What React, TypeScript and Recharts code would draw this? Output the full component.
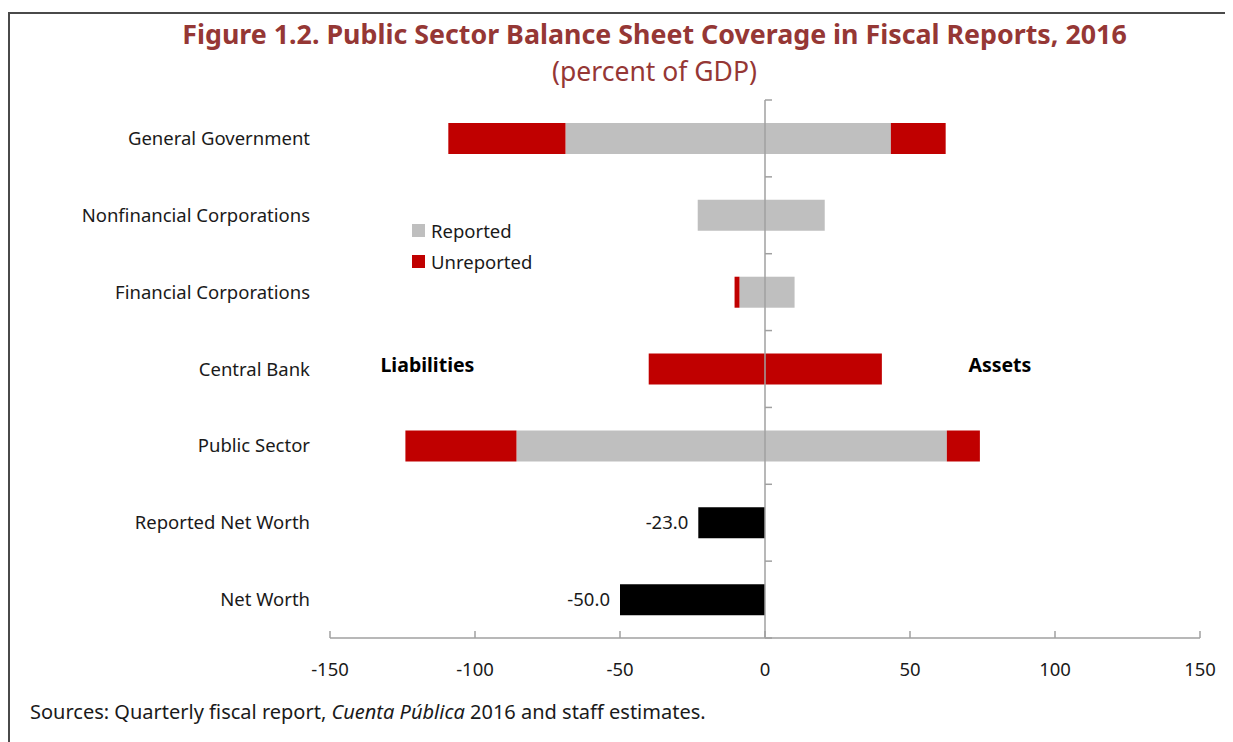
import React from 'react';
import { BarChart, Bar, XAxis, YAxis, ReferenceLine, ReferenceDot, Legend, LabelList } from 'recharts';

const categories = [
  'General Government',
  'Nonfinancial Corporations',
  'Financial Corporations',
  'Central Bank',
  'Public Sector',
  'Reported Net Worth',
  'Net Worth',
];
const reportedLiabilities = [-68.8, -23.2, -8.8, 0, -85.7, 0, 0];
const unreportedLiabilities = [-40.4, 0, -1.7, -40.1, -38.3, 0, 0];
const reportedAssets = [43.4, 20.6, 10.2, 0, 62.7, 0, 0];
const unreportedAssets = [18.9, 0, 0, 40.3, 11.4, 0, 0];
const netWorth = [0, 0, 0, 0, 0, -23.0, -50.0];
const xTicks = [-150, -100, -50, 0, 50, 100, 150];
const legendItems = [
  { label: 'Reported', color: '#bfbfbf' },
  { label: 'Unreported', color: '#c00000' },
];

const data = categories.map((name, i) => ({
  name,
  repL: reportedLiabilities[i],
  unrepL: unreportedLiabilities[i],
  repA: reportedAssets[i],
  unrepA: unreportedAssets[i],
  nw: netWorth[i],
}));

const FONT = "'Noto Sans', 'Open Sans', sans-serif";
const TEXT = '#1a1a1a';
const AXIS = '#a0a0a0';

const ZeroAxis = (props: any) => {
  const { x1, y1, y2 } = props;
  const top = Math.min(y1, y2);
  const bottom = Math.max(y1, y2);
  const n = categories.length;
  const ticks = [];
  for (let i = 0; i <= n; i++) {
    const y = top + (i * (bottom - top)) / n;
    ticks.push(<line key={i} x1={x1} x2={x1 + 7} y1={y} y2={y} stroke={AXIS} strokeWidth={1.5} />);
  }
  return (
    <g>
      <line x1={x1} x2={x1} y1={top} y2={bottom} stroke={AXIS} strokeWidth={1.5} />
      {ticks}
    </g>
  );
};

const LegendContent = () => (
  <div style={{ fontFamily: FONT, fontSize: 18.5, color: TEXT }}>
    {legendItems.map((it) => (
      <div key={it.label} style={{ display: 'flex', alignItems: 'center', height: 31 }}>
        <span style={{ display: 'inline-block', width: 13, height: 13, background: it.color, marginRight: 6 }} />
        <span>{it.label}</span>
      </div>
    ))}
  </div>
);

export default function App() {
  return (
    <div style={{ position: 'relative', width: 1233, height: 742 }}>
      <div
        style={{
          position: 'absolute',
          left: 0,
          top: 4,
          width: 1240,
          height: 760,
          border: '2px solid #4a4a4a',
          boxSizing: 'border-box',
        }}
      />
      <div style={{ position: 'absolute', left: -8, top: -8, width: 1233, height: 742 }}>
        <div
          style={{
            position: 'absolute',
            left: 0,
            width: 1233,
            top: 15,
            textAlign: 'center',
            fontFamily: FONT,
            fontWeight: 'bold',
            fontSize: 26.8,
            color: '#953735',
            paddingLeft: 76,
            boxSizing: 'border-box',
            whiteSpace: 'nowrap',
          }}
        >
          Figure 1.2. Public Sector Balance Sheet Coverage in Fiscal Reports, 2016
        </div>
        <div
          style={{
            position: 'absolute',
            left: 0,
            width: 1233,
            top: 53,
            textAlign: 'center',
            fontFamily: FONT,
            fontSize: 26.5,
            color: '#953735',
            paddingLeft: 76,
            boxSizing: 'border-box',
          }}
        >
          (percent of GDP)
        </div>
        <div style={{ position: 'absolute', left: 0, top: 0 }}>
          <BarChart
            width={1233}
            height={742}
            data={data}
            layout="vertical"
            stackOffset="sign"
            barSize={31}
            margin={{ top: 100, right: 33, bottom: 74, left: 0 }}
            style={{ fontFamily: FONT }}
          >
            <XAxis
              type="number"
              domain={[-150, 150]}
              ticks={xTicks}
              interval={0}
              height={30}
              axisLine={{ stroke: AXIS, strokeWidth: 1.5 }}
              tickLine={{ stroke: AXIS, strokeWidth: 1.5 }}
              tickSize={-7}
              tickMargin={32}
              tick={{ fill: TEXT, fontSize: 18.5 }}
            />
            <YAxis
              type="category"
              dataKey="name"
              width={330}
              axisLine={false}
              tickLine={false}
              tickSize={0}
              tickMargin={20}
              interval={0}
              tick={{ fill: TEXT, fontSize: 18.5 }}
            />
            <Legend
              layout="vertical"
              align="center"
              verticalAlign="middle"
              content={<LegendContent />}
              wrapperStyle={{ position: 'absolute', left: 412, top: 215, width: 160 }}
            />
            <Bar dataKey="repL" stackId="a" fill="#bfbfbf" isAnimationActive={false} />
            <Bar dataKey="unrepL" stackId="a" fill="#c00000" isAnimationActive={false} />
            <Bar dataKey="repA" stackId="a" fill="#bfbfbf" isAnimationActive={false} />
            <Bar dataKey="unrepA" stackId="a" fill="#c00000" isAnimationActive={false} />
            <Bar dataKey="nw" stackId="a" fill="#000000" isAnimationActive={false}>
              <LabelList
                dataKey="nw"
                position="right"
                offset={10}
                fill={TEXT}
                fontSize={18.5}
                formatter={(v: any) => (v ? Number(v).toFixed(1) : '')}
              />
            </Bar>
            <ReferenceLine x={0} stroke={AXIS} shape={ZeroAxis} />
            <ReferenceDot
              x={-116.4}
              y="Central Bank"
              r={0}
              fill="none"
              stroke="none"
              label={{ value: 'Liabilities', position: 'center', fill: '#000', fontSize: 19.5, fontWeight: 'bold', dy: -4 }}
            />
            <ReferenceDot
              x={81}
              y="Central Bank"
              r={0}
              fill="none"
              stroke="none"
              label={{ value: 'Assets', position: 'center', fill: '#000', fontSize: 19.5, fontWeight: 'bold', dy: -4 }}
            />
          </BarChart>
        </div>
        <div
          style={{
            position: 'absolute',
            left: 30,
            top: 698,
            fontFamily: FONT,
            fontSize: 20,
            color: TEXT,
            whiteSpace: 'nowrap',
          }}
        >
          Sources: Quarterly fiscal report, <i>Cuenta Pública</i> 2016 and staff estimates.
        </div>
      </div>
    </div>
  );
}
